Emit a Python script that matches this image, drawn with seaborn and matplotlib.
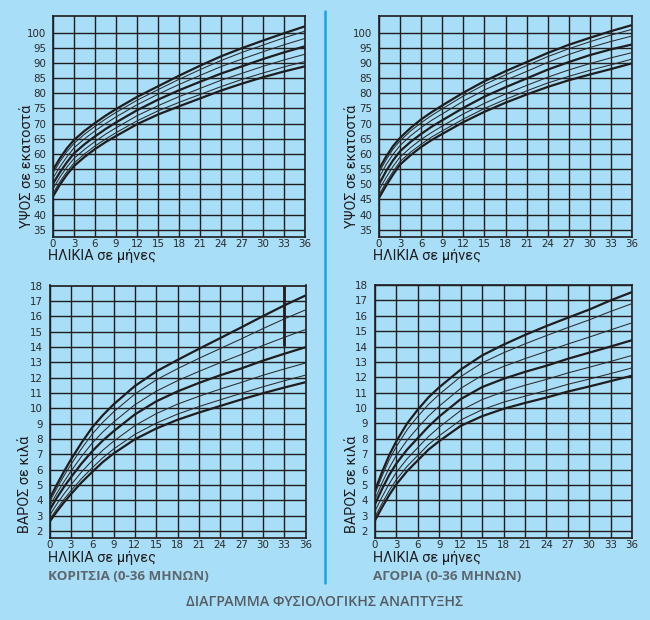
import matplotlib
matplotlib.use("Agg")
import matplotlib.pyplot as plt
from matplotlib import font_manager
import seaborn as sns
import pandas as pd

# ---------------- data ----------------
ages = [0, 1, 2, 3, 4.5, 6, 7.5, 9, 12, 15, 18, 21, 24, 27, 30, 33, 36]
percentiles = ["P97", "P90", "P75", "P50", "P25", "P10", "P3"]
thick_percentiles = ["P97", "P50", "P3"]

girls_height = {
    "P97": [54.8, 58.6, 61.9, 64.6, 67.6, 70.2, 72.6, 74.8, 78.8, 82.3, 85.8, 89.1, 92.2, 94.9, 97.4, 99.8, 102.1],
    "P90": [53.7, 57.5, 60.8, 63.5, 66.5, 69.1, 71.5, 73.7, 77.7, 81.2, 84.6, 87.8, 90.8, 93.5, 95.9, 98.3, 100.5],
    "P75": [52.0, 55.8, 59.1, 62.0, 65.0, 67.6, 70.0, 72.2, 76.2, 79.7, 82.9, 85.9, 88.8, 91.3, 93.7, 96.0, 98.1],
    "P50": [50.2, 54.0, 57.3, 60.2, 63.2, 65.8, 68.2, 70.4, 74.4, 77.9, 81.0, 83.8, 86.5, 88.9, 91.3, 93.5, 95.5],
    "P25": [48.5, 52.4, 55.7, 58.5, 61.5, 64.1, 66.5, 68.6, 72.6, 75.9, 78.9, 81.6, 84.3, 86.6, 88.9, 91.0, 92.9],
    "P10": [47.0, 50.9, 54.2, 57.0, 60.0, 62.6, 64.9, 67.0, 70.9, 74.2, 77.0, 79.6, 82.2, 84.6, 86.7, 88.7, 90.5],
    "P3":  [46.0, 49.9, 53.2, 56.0, 59.0, 61.6, 63.9, 65.9, 69.8, 73.0, 75.7, 78.3, 80.9, 83.2, 85.3, 87.2, 88.9],
}
boys_height = {
    "P97": [55.0, 59.1, 62.6, 65.3, 68.6, 71.4, 73.8, 76.0, 80.2, 84.0, 87.3, 90.3, 93.3, 96.0, 98.3, 100.5, 102.5],
    "P90": [53.9, 58.0, 61.6, 64.3, 67.6, 70.3, 72.7, 74.9, 79.1, 82.9, 86.1, 89.1, 92.1, 94.7, 97.0, 99.2, 101.1],
    "P75": [52.2, 56.4, 59.9, 62.8, 66.0, 68.7, 71.1, 73.2, 77.4, 81.1, 84.3, 87.2, 90.2, 92.8, 95.1, 97.1, 98.9],
    "P50": [50.0, 54.3, 57.9, 60.9, 64.0, 66.6, 69.0, 71.1, 75.2, 78.9, 82.0, 84.9, 87.8, 90.3, 92.6, 94.5, 96.1],
    "P25": [48.1, 52.2, 55.9, 59.0, 62.1, 64.8, 67.1, 69.2, 73.2, 76.7, 79.8, 82.6, 85.3, 87.7, 89.8, 91.7, 93.4],
    "P10": [46.5, 50.6, 54.2, 57.5, 60.6, 63.2, 65.6, 67.6, 71.5, 75.0, 78.0, 80.8, 83.4, 85.6, 87.6, 89.4, 91.3],
    "P3":  [45.5, 49.5, 53.2, 56.5, 59.6, 62.3, 64.6, 66.6, 70.5, 73.9, 76.9, 79.6, 82.1, 84.3, 86.2, 88.0, 89.9],
}
girls_weight = {
    "P97": [4.10, 5.00, 5.85, 6.65, 7.75, 8.75, 9.55, 10.25, 11.45, 12.40, 13.15, 13.87, 14.57, 15.28, 16.00, 16.70, 17.35],
    "P90": [3.89, 4.76, 5.57, 6.33, 7.37, 8.32, 9.09, 9.76, 10.93, 11.85, 12.58, 13.25, 13.89, 14.53, 15.19, 15.82, 16.41],
    "P75": [3.61, 4.44, 5.19, 5.89, 6.86, 7.73, 8.46, 9.10, 10.23, 11.11, 11.80, 12.40, 12.97, 13.51, 14.09, 14.62, 15.13],
    "P50": [3.35, 4.15, 4.85, 5.50, 6.40, 7.20, 7.90, 8.50, 9.60, 10.45, 11.10, 11.65, 12.15, 12.60, 13.10, 13.55, 13.98],
    "P25": [3.01, 3.74, 4.40, 5.00, 5.85, 6.59, 7.27, 7.85, 8.87, 9.65, 10.27, 10.78, 11.25, 11.69, 12.15, 12.56, 12.95],
    "P10": [2.75, 3.43, 4.05, 4.62, 5.42, 6.12, 6.78, 7.34, 8.30, 9.03, 9.62, 10.11, 10.55, 10.98, 11.40, 11.79, 12.16],
    "P3":  [2.60, 3.25, 3.85, 4.40, 5.17, 5.85, 6.50, 7.05, 7.98, 8.68, 9.25, 9.72, 10.15, 10.58, 10.98, 11.35, 11.70],
}
boys_weight = {
    "P97": [4.65, 5.85, 6.95, 7.85, 9.00, 9.90, 10.70, 11.35, 12.50, 13.42, 14.12, 14.75, 15.33, 15.87, 16.40, 17.00, 17.54],
    "P90": [4.43, 5.59, 6.64, 7.50, 8.59, 9.46, 10.24, 10.89, 12.04, 12.94, 13.59, 14.17, 14.71, 15.23, 15.73, 16.28, 16.79],
    "P75": [4.07, 5.15, 6.12, 6.92, 7.91, 8.72, 9.48, 10.13, 11.28, 12.12, 12.70, 13.21, 13.68, 14.16, 14.61, 15.08, 15.54],
    "P50": [3.75, 4.75, 5.65, 6.40, 7.30, 8.05, 8.80, 9.45, 10.58, 11.36, 11.90, 12.35, 12.75, 13.20, 13.60, 14.00, 14.41],
    "P25": [3.30, 4.23, 5.09, 5.82, 6.70, 7.43, 8.15, 8.76, 9.84, 10.55, 11.06, 11.48, 11.86, 12.28, 12.65, 13.03, 13.42],
    "P10": [2.93, 3.81, 4.64, 5.35, 6.21, 6.92, 7.63, 8.20, 9.22, 9.89, 10.38, 10.77, 11.14, 11.54, 11.88, 12.24, 12.61],
    "P3":  [2.70, 3.55, 4.35, 5.05, 5.90, 6.60, 7.30, 7.85, 8.84, 9.47, 9.95, 10.33, 10.68, 11.07, 11.40, 11.75, 12.10],
}

month_ticks = list(range(0, 37, 3))
height_ticks = list(range(35, 101, 5))
weight_ticks = list(range(2, 19))

marker_age = 33
marker_weights = [14.05, 18.0]

ylabel_height = "ΥΨΟΣ σε εκατοστά"
ylabel_weight = "ΒΑΡΟΣ σε κιλά"
xlabel_age = "ΗΛΙΚΙΑ σε μήνες"
girls_caption = "ΚΟΡΙΤΣΙΑ (0-36 ΜΗΝΩΝ)"
boys_caption = "ΑΓΟΡΙΑ (0-36 ΜΗΝΩΝ)"
title = "ΔΙΑΓΡΑΜΜΑ ΦΥΣΙΟΛΟΓΙΚΗΣ ΑΝΑΠΤΥΞΗΣ"

# ---------------- style ----------------
BG = "#a8def7"
INK = "#201d1e"
sns.set_theme(style="white")
plt.rcParams["font.family"] = ["DejaVu Sans"]

# condensed label font if available
try:
    font_manager.findfont(font_manager.FontProperties(family="Liberation Sans Narrow"),
                          fallback_to_default=False)
    AXIS_FONT = ["Liberation Sans Narrow", "DejaVu Sans"]
    AXIS_SIZE = 11.0
except Exception:
    AXIS_FONT = ["Roboto", "DejaVu Sans"]
    AXIS_SIZE = 10.4

CAPTION_FONT = ["Open Sans", "DejaVu Sans"]

W, H = 650, 620
fig = plt.figure(figsize=(W / 100, H / 100), dpi=100, facecolor=BG)


def px_axes(left, top, right, bottom):
    return fig.add_axes([left / W, 1 - bottom / H, (right - left) / W, (bottom - top) / H])


def draw_panel(ax, data, yticks, ylim):
    ax.set_facecolor(BG)
    rows = []
    for p in percentiles:
        for a, v in zip(ages, data[p]):
            rows.append({"age": a, "value": v, "pct": p})
    df = pd.DataFrame(rows)
    for p in percentiles:
        sub = df[df["pct"] == p]
        thick = p in thick_percentiles
        sns.lineplot(data=sub, x="age", y="value", ax=ax,
                     color=INK if thick else "#2b2b2b",
                     linewidth=1.6 if thick else 0.75, sort=False,
                     solid_capstyle="butt", solid_joinstyle="round", zorder=3)
    ax.set_xlim(0, 36)
    ax.set_ylim(*ylim)
    ax.set_xticks(month_ticks)
    ax.set_yticks(yticks)
    ax.grid(True, color=INK, linewidth=1.0)
    ax.set_axisbelow(True)
    for s in ax.spines.values():
        s.set_color(INK)
        s.set_linewidth(1.2)
    ax.tick_params(axis="both", length=0, labelsize=7.4, colors="#2a2a2a")
    ax.tick_params(axis="x", pad=1.5)
    ax.tick_params(axis="y", pad=5)
    ax.set_xlabel("")
    ax.set_ylabel("")


ax_gh = px_axes(53, 16, 305, 237)
ax_bh = px_axes(379, 16, 632, 237)
ax_gw = px_axes(49.5, 285.5, 305.5, 538)
ax_bw = px_axes(375, 285, 632, 538)

draw_panel(ax_gh, girls_height, height_ticks, (32.6, 105.5))
draw_panel(ax_bh, boys_height, height_ticks, (32.6, 105.5))
draw_panel(ax_gw, girls_weight, weight_ticks, (1.55, 18))
draw_panel(ax_bw, boys_weight, weight_ticks, (1.55, 18))

ax_gw.vlines(marker_age, marker_weights[0], marker_weights[1], color=INK, linewidth=2.0, zorder=4)


def ftext(x, y, s, **kw):
    fig.text(x / W, 1 - y / H, s, **kw)


# y labels (rotated)
for x, y, s in [(27, 228, ylabel_height), (352, 228, ylabel_height),
                (25, 533, ylabel_weight), (352, 533, ylabel_weight)]:
    ftext(x, y, s, rotation=90, ha="center", va="bottom", fontsize=AXIS_SIZE,
          color=INK, family=AXIS_FONT)

# x labels
for x, y in [(48, 256), (373, 256), (48, 558), (373, 558)]:
    ftext(x, y, xlabel_age, ha="left", va="center", fontsize=AXIS_SIZE,
          color=INK, family=AXIS_FONT)

ftext(48, 577, girls_caption, ha="left", va="center", fontsize=9.6,
      color="#5f666d", fontweight="bold", family=CAPTION_FONT)
ftext(373, 577, boys_caption, ha="left", va="center", fontsize=9.6,
      color="#5f666d", fontweight="bold", family=CAPTION_FONT)

ftext(325, 602, title, ha="center", va="center", fontsize=10.2,
      color="#555a60", fontweight="semibold", family=CAPTION_FONT)

# separator
fig.add_artist(plt.Line2D([325 / W, 325 / W], [1 - 11 / H, 1 - 583 / H],
                          color="#12a6e6", linewidth=1.8, transform=fig.transFigure))

fig.savefig("out.png", dpi=100, facecolor=BG)
